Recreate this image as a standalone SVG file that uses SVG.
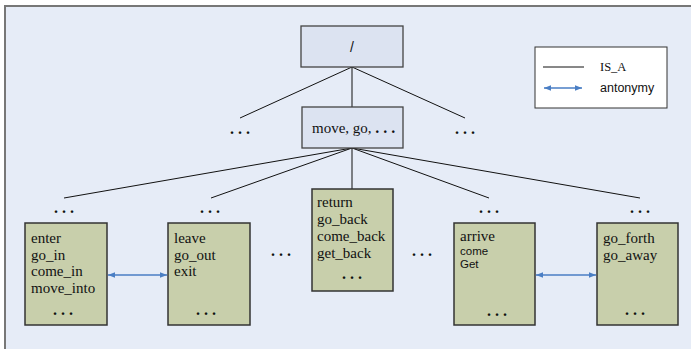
<svg xmlns="http://www.w3.org/2000/svg" width="691" height="349" viewBox="0 0 691 349">
<defs>
<style>
.bg{fill:#E6ECF7;stroke:#777;stroke-width:2}
.top{fill:#DCE3F1;stroke:#444;stroke-width:1.3}
.leaf{fill:#C8CFAB;stroke:#333;stroke-width:1.5}
.t{font-family:"Liberation Serif","Times New Roman",serif;font-size:15px;fill:#111}
.s{font-family:"Liberation Sans",Arial,sans-serif;font-size:12.5px;fill:#111}
.d{font-family:"Liberation Serif","Times New Roman",serif;font-size:16px;font-weight:bold;fill:#111}
.isa{stroke:#111;stroke-width:1;fill:none}
.ant{stroke:#4A7EC4;stroke-width:1.3;fill:none;marker-start:url(#ah);marker-end:url(#ah)}
</style>
<marker id="ah" viewBox="0 0 10 10" refX="10" refY="5" markerWidth="7" markerHeight="7" orient="auto-start-reverse" markerUnits="userSpaceOnUse">
<path d="M0,1 L10,5 L0,9 z" fill="#4A7EC4"/>
</marker>
</defs>
<rect class="bg" x="5" y="6" width="700" height="360"/>

<g id="connectors">
<line class="isa" x1="352" y1="67" x2="352" y2="107"/>
<line class="isa" x1="352" y1="67" x2="240" y2="118"/>
<line class="isa" x1="352" y1="67" x2="465" y2="118"/>
<line class="isa" x1="352" y1="148" x2="64" y2="198"/>
<line class="isa" x1="352" y1="148" x2="211" y2="198"/>
<line class="isa" x1="352" y1="148" x2="352" y2="189"/>
<line class="isa" x1="352" y1="148" x2="489" y2="198"/>
<line class="isa" x1="352" y1="148" x2="640" y2="198"/>
<line class="ant" x1="108" y1="275" x2="167" y2="275"/>
<line class="ant" x1="536" y1="275" x2="596" y2="275"/>
</g>

<g id="legend">
<rect x="535" y="47" width="132" height="61" fill="#fff" stroke="#333" stroke-width="1"/>
<line class="isa" x1="543" y1="67" x2="584" y2="67"/>
<text class="t" x="600" y="71" style="font-size:12.5px">IS_A</text>
<line class="ant" x1="544" y1="88" x2="582" y2="88"/>
<text class="s" x="600" y="92">antonymy</text>
</g>

<g id="root">
<rect class="top" x="301" y="26" width="102" height="41"/>
<text class="s" x="352" y="52" text-anchor="middle" style="font-size:14px">/</text>
</g>

<g id="dots-top-left"><text class="d" x="240" y="134" text-anchor="middle">. . .</text></g>
<g id="dots-top-right"><text class="d" x="465" y="134" text-anchor="middle">. . .</text></g>

<g id="move">
<rect class="top" x="302" y="107" width="101" height="41"/>
<text class="t" x="312" y="133">move, go, <tspan class="d">. . .</tspan></text>
</g>

<g id="dots-1"><text class="d" x="64" y="213" text-anchor="middle">. . .</text></g>
<g id="dots-2"><text class="d" x="210" y="213" text-anchor="middle">. . .</text></g>
<g id="dots-4"><text class="d" x="489" y="213" text-anchor="middle">. . .</text></g>
<g id="dots-5"><text class="d" x="640" y="213" text-anchor="middle">. . .</text></g>
<g id="dots-mid-1"><text class="d" x="281" y="256" text-anchor="middle">. . .</text></g>
<g id="dots-mid-2"><text class="d" x="422" y="256" text-anchor="middle">. . .</text></g>

<g id="enter">
<rect class="leaf" x="25" y="223" width="82" height="102"/>
<text class="t" x="31" y="243">enter</text>
<text class="t" x="31" y="260">go_in</text>
<text class="t" x="31" y="276">come_in</text>
<text class="t" x="31" y="293">move_into</text>
<text class="d" x="63" y="315" text-anchor="middle">. . .</text>
</g>

<g id="leave">
<rect class="leaf" x="168" y="223" width="82" height="102"/>
<text class="t" x="174" y="243">leave</text>
<text class="t" x="174" y="260">go_out</text>
<text class="t" x="174" y="276">exit</text>
<text class="d" x="206" y="315" text-anchor="middle">. . .</text>
</g>

<g id="return">
<rect class="leaf" x="312" y="189" width="81" height="102"/>
<text class="t" x="317" y="207">return</text>
<text class="t" x="317" y="224">go_back</text>
<text class="t" x="317" y="241">come_back</text>
<text class="t" x="317" y="258">get_back</text>
<text class="d" x="352" y="279" text-anchor="middle">. . .</text>
</g>

<g id="arrive">
<rect class="leaf" x="454" y="223" width="81" height="102"/>
<text class="t" x="460" y="241">arrive</text>
<text class="s" x="460" y="255" style="font-size:11.5px">come</text>
<text class="s" x="460" y="268" style="font-size:11.5px">Get</text>
<text class="d" x="497" y="316" text-anchor="middle">. . .</text>
</g>

<g id="goforth">
<rect class="leaf" x="597" y="223" width="81" height="102"/>
<text class="t" x="603" y="243">go_forth</text>
<text class="t" x="603" y="260">go_away</text>
<text class="d" x="635" y="315" text-anchor="middle">. . .</text>
</g>
</svg>
